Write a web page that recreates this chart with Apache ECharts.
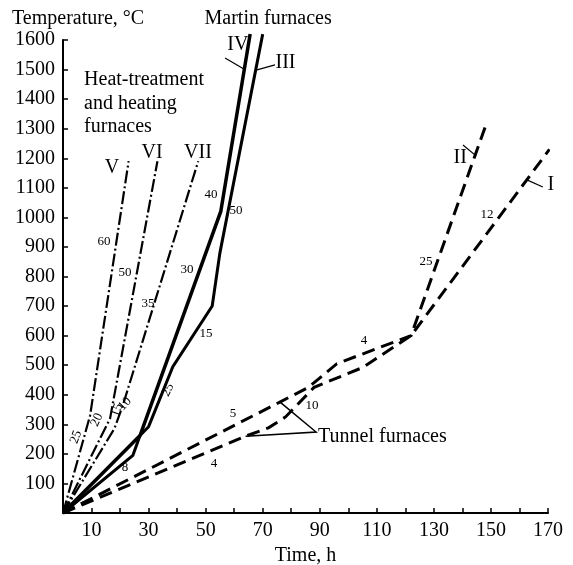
<!DOCTYPE html>
<html>
<head>
<meta charset="utf-8">
<script src="https://cdn.jsdelivr.net/npm/echarts@6/dist/echarts.min.js"></script>
<style>
    html, body { margin: 0; background: #fff; }
    #main { width: 573px; height: 565px; }
</style>
</head>
<body>
<div id="main"></div>
<script>
    // heat-treatment and heating furnaces (dash-dot)
    var lineV = [[0, 0], [9.5, 330], [23, 1190]];
    var lineVI = [[0, 0], [16.5, 320], [33.1, 1190]];
    var lineVII = [[0, 0], [18, 285], [21, 365], [47.4, 1190]];
    // Martin furnaces (solid)
    var lineIII = [[0, 0], [24.5, 195], [27, 262], [30, 292], [38.5, 495], [52.3, 700], [55, 880], [70, 1620]];
    var lineIV = [[0, 0], [27, 262], [55.3, 1020], [65.6, 1620]];
    // tunnel furnaces (dashed)
    var lineII = [[0, 0], [76, 375], [86, 425], [96, 505], [122, 600], [148.5, 1320]];
    var lineI = [[0, 0], [64, 260], [72, 288], [78, 325], [88, 425], [105, 492], [122, 600], [170.5, 1230]];

    // pointer strokes from the labels
    var ptrTunnel = [[64, 260], [88.7, 274], [76.1, 375]];
    var ptrIV = [[56.8, 1539], [63.4, 1502]];
    var ptrIII = [[68, 1499], [74.3, 1516]];
    var ptrII = [[140.2, 1245], [144.8, 1208]];
    var ptrI = [[162.6, 1127], [168.2, 1103]];

    // text, x, y, size, rotation, align
    var notes = [
        ['Martin furnaces', 71.9, 1671, 20, 0, 'center'],
        ['IV', 61.3, 1583, 20, 0, 'center'],
        ['III', 78, 1524, 20, 0, 'center'],
        ['Heat-treatment', 7.4, 1465, 20, 0, 'left'],
        ['and heating', 7.4, 1384, 20, 0, 'left'],
        ['furnaces', 7.4, 1306, 20, 0, 'left'],
        ['V', 17.2, 1168, 20, 0, 'center'],
        ['VI', 31.2, 1219, 20, 0, 'center'],
        ['VII', 47.3, 1219, 20, 0, 'center'],
        ['60', 14.4, 917, 13, 0, 'center'],
        ['50', 21.7, 812, 13, 0, 'center'],
        ['35', 29.8, 710, 13, 0, 'center'],
        ['30', 43.5, 822, 13, 0, 'center'],
        ['40', 51.9, 1076, 13, 0, 'center'],
        ['50', 60.6, 1022, 13, 0, 'center'],
        ['15', 50.1, 606, 13, 0, 'center'],
        ['25', 36.8, 416, 13, 65, 'center'],
        ['25', 4.6, 257, 13, 70, 'center'],
        ['20', 11.9, 315, 13, 65, 'center'],
        ['15', 18.9, 348, 13, 70, 'center'],
        ['10', 21.7, 369, 13, 45, 'center'],
        ['8', 21.7, 152, 13, 0, 'center'],
        ['5', 59.6, 338, 13, 0, 'center'],
        ['4', 52.9, 166, 13, 0, 'center'],
        ['10', 87.3, 362, 13, 0, 'center'],
        ['4', 105.5, 582, 13, 0, 'center'],
        ['25', 127.2, 849, 13, 0, 'center'],
        ['12', 148.6, 1008, 13, 0, 'center'],
        ['II', 139.2, 1201, 20, 0, 'center'],
        ['I', 171, 1110, 20, 0, 'center'],
        ['Tunnel furnaces', 89.4, 257, 20, 0, 'left']
    ];

    var serif = '"Liberation Serif", "DejaVu Serif", serif';
    var dashDot = [13, 3, 2, 3];
    var dashed = [13, 7];

    function curve(data, width, type) {
        return {
            type: 'line',
            data: data,
            symbol: 'none',
            clip: false,
            silent: true,
            lineStyle: { color: '#000', width: width, type: type, cap: 'butt', join: 'miter' }
        };
    }

    var chart = echarts.init(document.getElementById('main'));
    chart.setOption({
        animation: false,
        backgroundColor: '#fff',
        title: {
            text: 'Temperature, °C',
            left: 7,
            top: 4,
            textStyle: { fontFamily: serif, fontSize: 20, fontWeight: 'normal', color: '#000' }
        },
        grid: { left: 63, right: 25, top: 40, bottom: 52, containLabel: false, outerBoundsMode: 'none' },
        xAxis: {
            type: 'value',
            min: 0,
            max: 170,
            interval: 10,
            name: 'Time, h',
            nameLocation: 'middle',
            nameGap: 26,
            nameTextStyle: { fontFamily: serif, fontSize: 20, color: '#000' },
            axisLine: { lineStyle: { color: '#000', width: 2 } },
            axisTick: { inside: true, length: 5, lineStyle: { color: '#000', width: 1.5 } },
            axisLabel: {
                fontFamily: serif, fontSize: 20, color: '#000', margin: 8,
                formatter: function (v) { return (v / 10) % 2 === 1 ? String(v) : ''; }
            },
            splitLine: { show: false }
        },
        yAxis: {
            type: 'value',
            min: 0,
            max: 1600,
            interval: 100,
            axisLine: { show: true, lineStyle: { color: '#000', width: 2 } },
            axisTick: { show: true, inside: true, length: 5, lineStyle: { color: '#000', width: 1.5 } },
            axisLabel: {
                fontFamily: serif, fontSize: 20, color: '#000', margin: 8,
                formatter: function (v) { return v === 0 ? '' : String(v); }
            },
            splitLine: { show: false }
        },
        series: [
            curve(lineV, 2.2, dashDot),
            curve(lineVI, 2.2, dashDot),
            curve(lineVII, 2.2, dashDot),
            curve(lineIII, 3, 'solid'),
            curve(lineIV, 3.5, 'solid'),
            curve(lineII, 3, dashed),
            curve(lineI, 3, dashed),
            curve(ptrTunnel, 1.5, 'solid'),
            curve(ptrIV, 1.2, 'solid'),
            curve(ptrIII, 1.2, 'solid'),
            curve(ptrII, 1.2, 'solid'),
            curve(ptrI, 1.2, 'solid')
        ]
    });

    var texts = [];
    for (var i = 0; i < notes.length; i++) {
        var n = notes[i];
        var p = chart.convertToPixel({ gridIndex: 0 }, [n[1], n[2]]);
        texts.push({
            type: 'text',
            x: p[0],
            y: p[1],
            rotation: n[4] * Math.PI / 180,
            silent: true,
            style: {
                text: n[0],
                font: n[3] + 'px ' + serif,
                fill: '#000',
                align: n[5],
                verticalAlign: 'middle'
            }
        });
    }
    chart.setOption({ graphic: texts });
</script>
</body>
</html>
